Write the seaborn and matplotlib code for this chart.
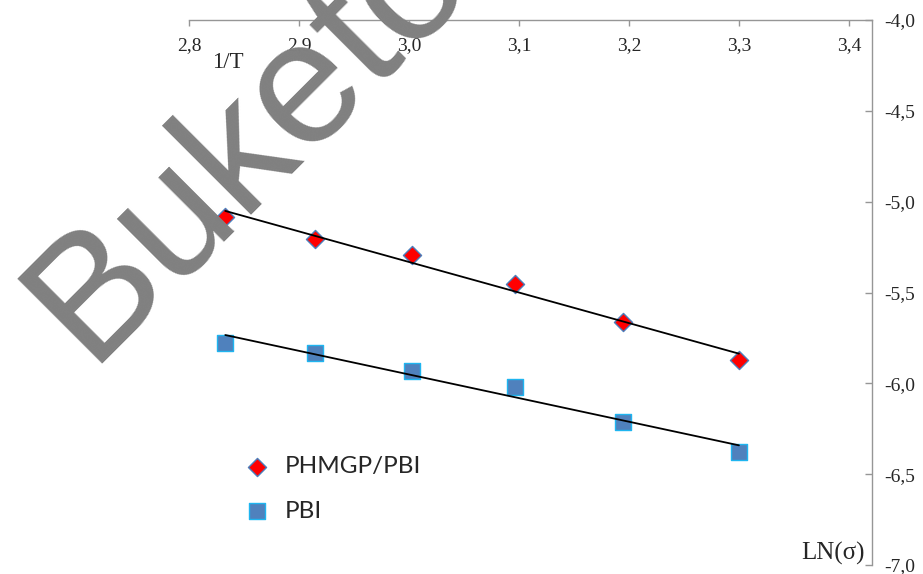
import numpy as np
import pandas as pd
import matplotlib
matplotlib.use('Agg')
import matplotlib.pyplot as plt
import seaborn as sns
from matplotlib.ticker import FixedLocator, FuncFormatter

# 1/T (x1000) and LN(sigma)
inv_t = [2.833, 2.915, 3.003, 3.096, 3.195, 3.300]
ln_sigma_phmgp = [-5.083, -5.205, -5.293, -5.453, -5.662, -5.871]
ln_sigma_pbi = [-5.778, -5.833, -5.932, -6.020, -6.212, -6.377]
series_names = ['PHMGP/PBI', 'PBI']
x_ticks = [2.8, 2.9, 3.0, 3.1, 3.2, 3.3, 3.4]
y_ticks = [-4.0, -4.5, -5.0, -5.5, -6.0, -6.5, -7.0]


def comma_fmt(v, pos):
    return f'{v:.1f}'.replace('.', ',')


def main():
    df_phmgp = pd.DataFrame({'x': inv_t, 'y': ln_sigma_phmgp})
    df_pbi = pd.DataFrame({'x': inv_t, 'y': ln_sigma_pbi})

    sns.set_style('white')
    plt.rcParams['font.family'] = ['Liberation Serif', 'DejaVu Serif']

    fig = plt.figure(figsize=(9.23, 5.74), dpi=100)
    ax = fig.add_axes([189 / 923, 9 / 574, 683 / 923, 545 / 574])

    # trend lines (least squares, like the Excel trendline)
    sns.regplot(data=df_phmgp, x='x', y='y', ax=ax, scatter=False, ci=None,
                truncate=True, line_kws={'color': 'black', 'lw': 1.3, 'zorder': 4})
    sns.regplot(data=df_pbi, x='x', y='y', ax=ax, scatter=False, ci=None,
                truncate=True, line_kws={'color': 'black', 'lw': 1.3, 'zorder': 4})

    sns.scatterplot(data=df_phmgp, x='x', y='y', ax=ax, marker='D', s=85,
                    color='#ff0000', edgecolor='#4a7ebb', linewidth=1.0,
                    label=series_names[0], zorder=3)
    sns.scatterplot(data=df_pbi, x='x', y='y', ax=ax, marker='s', s=125,
                    color='#4f81bd', edgecolor='#1fb5f0', linewidth=1.0,
                    label=series_names[1], zorder=3)

    ax.set_xlim(2.8, 3.421)
    ax.set_ylim(-7.0, -4.0)

    # excel style: x axis crosses at -4.0 (top), y axis on the right
    for side in ['left', 'top']:
        ax.spines[side].set_visible(False)
    ax.spines['bottom'].set_position(('data', -4.0))
    for side in ['bottom', 'right']:
        ax.spines[side].set_color('#969696')
        ax.spines[side].set_linewidth(1.0)

    ax.xaxis.set_major_locator(FixedLocator(x_ticks))
    ax.xaxis.set_major_formatter(FuncFormatter(comma_fmt))
    ax.tick_params(axis='x', direction='out', length=4, width=1.0, color='#969696',
                   labelsize=14, pad=8, bottom=True)

    ax.yaxis.tick_right()
    ax.yaxis.set_major_locator(FixedLocator(y_ticks))
    ax.yaxis.set_major_formatter(FuncFormatter(comma_fmt))
    ax.tick_params(axis='y', direction='in', length=5, width=1.0, color='#969696',
                   labelsize=14, pad=9, right=True, left=False)

    ax.set_xlabel('1/T', fontsize=16.5)
    ax.xaxis.set_label_coords(0.0564, 0.912)
    ax.xaxis.label.set_va('baseline')
    ax.set_ylabel('LN(σ)', fontsize=18, rotation=0)
    ax.yaxis.set_label_coords(0.9898, 0.0092)
    ax.yaxis.label.set_ha('right')
    ax.yaxis.label.set_va('baseline')

    ax.legend(loc='upper left', bbox_to_anchor=(0.05, 0.217), frameon=False,
              prop={'family': 'Lato', 'size': 17.5}, handletextpad=0.15,
              labelspacing=0.95, borderaxespad=0)

    # watermark across the chart
    fig.text(88 / 923, 1 - 364 / 574, 'Buketov', rotation=45, rotation_mode='anchor',
             ha='left', va='baseline', fontsize=126, color='#808080',
             family='Liberation Sans', zorder=10)

    fig.savefig('out.png', dpi=100)


if __name__ == "__main__":
    main()
